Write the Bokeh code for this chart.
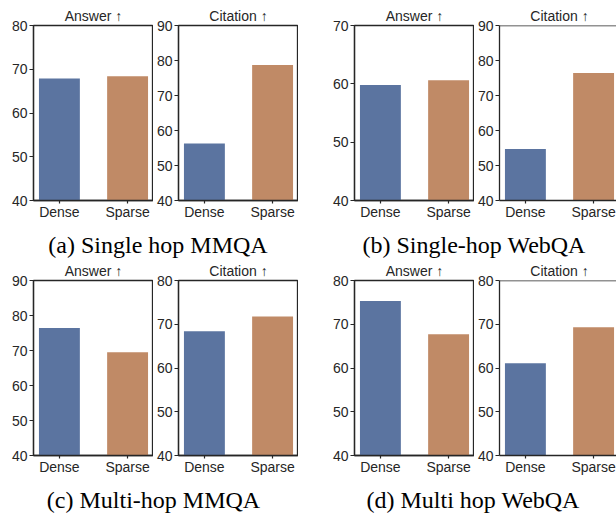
from bokeh.plotting import figure
from bokeh.models import Range1d, FixedTicker, Span
from bokeh.layouts import row, column
from bokeh.core.properties import value
from bokeh.embed import file_html
from bokeh.resources import INLINE

categories = ["Dense", "Sparse"]
colors = ["#5B74A0", "#C08A66"]
captions = ["(a) Single hop MMQA", "(b) Single-hop WebQA", "(c) Multi-hop MMQA", "(d) Multi hop WebQA"]
metric_titles = ["Answer \u2191", "Citation \u2191"]

answer_a = [67.9, 68.4]
citation_a = [56.3, 78.7]
answer_b = [59.8, 60.6]
citation_b = [54.7, 76.4]
answer_c = [76.4, 69.5]
citation_c = [68.4, 71.8]
answer_d = [75.3, 67.7]
citation_d = [61.1, 69.3]

ylims = {
    "answer_a": (40, 80), "citation_a": (40, 90),
    "answer_b": (40, 70), "citation_b": (40, 90),
    "answer_c": (40, 90), "citation_c": (40, 80),
    "answer_d": (40, 80), "citation_d": (40, 80),
}

INK = "#262626"
SANS = "Liberation Sans"
PAGE_W = 616
FRAME_W = 120
FRAME_H = 175
LEFT_BORDERS = [33, 24, 56, 23]

# Bokeh places the text box centre (ascent/descent) at y; shift so y is the baseline
SERIF_SHIFT = 0.3375 * 24


def make(title, values, ylim, left_border, top_border, last=False):
    p = figure(frame_width=FRAME_W, frame_height=FRAME_H, title=title,
               x_range=Range1d(-0.38, 1.38), y_range=Range1d(*ylim),
               output_backend="svg", toolbar_location=None,
               min_border_left=left_border, min_border_right=0,
               min_border_top=top_border, min_border_bottom=26)
    xs = list(range(len(categories)))
    p.vbar(x=xs, top=values, bottom=0, width=0.6, fill_color=colors, line_color=None)
    p.grid.visible = False
    p.title.align = "center"
    p.title.text_font = SANS
    p.title.text_font_size = "14px"
    p.title.text_font_style = "normal"
    p.title.text_color = INK
    p.title.standoff = 3
    p.title.offset = 0
    p.xaxis.ticker = FixedTicker(ticks=xs)
    p.xaxis.major_label_overrides = {i: c for i, c in enumerate(categories)}
    p.yaxis.ticker = FixedTicker(ticks=list(range(ylim[0], ylim[1] + 1, 10)))
    for ax, tout, stand in ((p.xaxis, 3, 0), (p.yaxis, 4, 2)):
        ax.major_tick_in = 0
        ax.major_tick_out = tout
        ax.minor_tick_line_color = None
        ax.major_tick_line_color = INK
        ax.major_tick_line_width = 1.2
        ax.major_label_text_font = SANS
        ax.major_label_text_font_size = "14px"
        ax.major_label_text_color = INK
        ax.major_label_standoff = stand
        ax.axis_line_color = INK
        ax.axis_line_width = 1.3
    p.outline_line_color = INK
    p.outline_line_width = 1.3
    p.outline_line_alpha = 1.0
    if last:
        p.outline_line_color = None
        p.add_layout(Span(location=ylim[1], dimension="width", line_color=INK, line_width=1.3))
    p.background_fill_color = "white"
    p.border_fill_color = "white"
    return p


def strip(height, caption_texts, caption_xs, caption_baseline):
    s = figure(width=PAGE_W, height=height, title=None,
               x_range=Range1d(0, PAGE_W), y_range=Range1d(height, 0),
               x_axis_type=None, y_axis_type=None, output_backend="svg", toolbar_location=None,
               min_border=0, min_border_left=0, min_border_right=0,
               min_border_top=0, min_border_bottom=0, outline_line_color=None)
    s.grid.visible = False
    s.background_fill_color = "white"
    s.border_fill_color = "white"
    s.text(x=caption_xs, y=[caption_baseline - SERIF_SHIFT] * len(caption_texts), text=caption_texts,
           text_font=value("Liberation Serif"), text_font_size="24px", text_color="black",
           text_align="center", text_baseline="alphabetic")
    return s


f1 = make(metric_titles[0], answer_a, ylims["answer_a"], LEFT_BORDERS[0], 25)
f2 = make(metric_titles[1], citation_a, ylims["citation_a"], LEFT_BORDERS[1], 25)
f3 = make(metric_titles[0], answer_b, ylims["answer_b"], LEFT_BORDERS[2], 25)
f4 = make(metric_titles[1], citation_b, ylims["citation_b"], LEFT_BORDERS[3], 25, last=True)
f5 = make(metric_titles[0], answer_c, ylims["answer_c"], LEFT_BORDERS[0], 22)
f6 = make(metric_titles[1], citation_c, ylims["citation_c"], LEFT_BORDERS[1], 22)
f7 = make(metric_titles[0], answer_d, ylims["answer_d"], LEFT_BORDERS[2], 22)
f8 = make(metric_titles[1], citation_d, ylims["citation_d"], LEFT_BORDERS[3], 22, last=True)

s2 = strip(32, captions[:2], [157.5, 473.7], 27)
s3 = strip(33, captions[2:], [153, 472.7], 27)

layout = column(
    row(f1, f2, f3, f4),
    s2,
    row(f5, f6, f7, f8),
    s3,
)

open("out.html", "w").write(file_html(layout, INLINE))
